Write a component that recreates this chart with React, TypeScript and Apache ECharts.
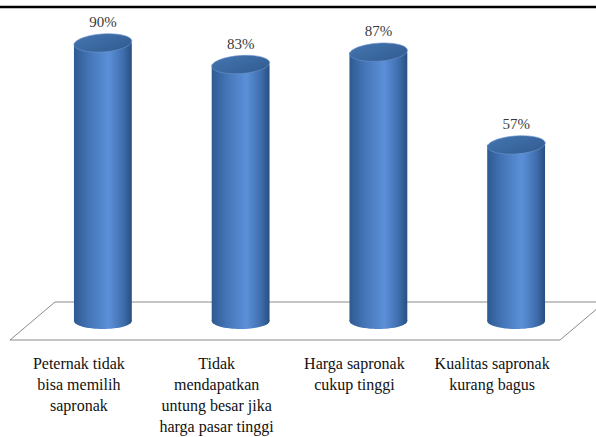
import React, { useEffect, useRef } from "react";
import * as echarts from "echarts";

// Reasons (category labels) and share of respondents in percent
const categories: string[] = [
  "Peternak tidak\nbisa memilih\nsapronak",
  "Tidak\nmendapatkan\nuntung besar jika\nharga pasar tinggi",
  "Harga sapronak\ncukup tinggi",
  "Kualitas sapronak\nkurang bagus",
];
const percentages: number[] = [90, 83, 87, 57];

const SERIF = "Times New Roman, Liberation Serif, serif";

export default function App() {
  const ref = useRef<HTMLDivElement>(null);

  useEffect(() => {
    if (!ref.current) return;
    const chart = echarts.init(ref.current, null, { renderer: "svg" });

    const bodyFill = new echarts.graphic.LinearGradient(0, 0, 1, 0, [
      { offset: 0, color: "#2e5a91" },
      { offset: 0.25, color: "#4474b6" },
      { offset: 0.6, color: "#5b90d8" },
      { offset: 0.85, color: "#3f6eae" },
      { offset: 1, color: "#28507f" },
    ]);
    const topFill = new echarts.graphic.LinearGradient(0, 0, 1, 1, [
      { offset: 0, color: "#4474b0" },
      { offset: 1, color: "#315c90" },
    ]);

    const renderItem = (params: any, api: any) => {
      const idx = api.value(0);
      const v = api.value(1);
      const base = api.coord([idx, 0]);
      const top = api.coord([idx, v]);
      const w = api.size([1, 0])[0] * 0.42;
      const rx = w / 2;
      const ry = 8;
      const cx = base[0];
      return {
        type: "group",
        children: [
          {
            type: "ellipse",
            shape: { cx, cy: base[1], rx, ry },
            style: { fill: bodyFill },
          },
          {
            type: "rect",
            shape: { x: cx - rx, y: top[1], width: w, height: base[1] - top[1] },
            style: { fill: bodyFill },
          },
          {
            type: "ellipse",
            shape: { cx, cy: top[1], rx, ry: ry + 1 },
            rotation: 0.07,
            originX: cx,
            originY: top[1],
            style: { fill: topFill, stroke: "#6b95cc", lineWidth: 0.6 },
          },
          {
            type: "text",
            style: {
              x: cx,
              y: top[1] - 21,
              text: v + "%",
              fill: "#3a3a3a",
              fontFamily: SERIF,
              fontSize: 15,
              align: "center",
              verticalAlign: "middle",
            },
          },
        ],
      };
    };

    chart.setOption({
      animation: false,
      backgroundColor: "#ffffff",
      textStyle: { fontFamily: SERIF },
      grid: [
        // cylinders
        { left: 34, right: 11, top: 12, bottom: 116 },
        // category labels sit on the front edge of the floor, a little to the left
        { left: 10, right: 35, top: 12, bottom: 116 },
      ],
      xAxis: [
        {
          type: "category",
          gridIndex: 0,
          data: categories,
          axisLine: { show: false },
          axisTick: { show: false },
          axisLabel: { show: false },
        },
        {
          type: "category",
          gridIndex: 1,
          data: categories,
          axisLine: { show: false },
          axisTick: { show: false },
          axisLabel: {
            interval: 0,
            margin: 34,
            align: "center",
            fontFamily: SERIF,
            fontSize: 16,
            lineHeight: 21,
            color: "#111111",
          },
        },
      ],
      yAxis: [
        { type: "value", gridIndex: 0, min: 0, max: 100, show: false },
        { type: "value", gridIndex: 1, min: 0, max: 100, show: false },
      ],
      graphic: [
        {
          type: "line",
          z: 10,
          shape: { x1: 0, y1: 7, x2: 596, y2: 7 },
          style: { stroke: "#000000", lineWidth: 2.5 },
        },
        {
          type: "polygon",
          z: 0,
          shape: {
            points: [
              [10, 340],
              [55, 302],
              [605, 302],
              [560, 340],
            ],
          },
          style: { fill: "#ffffff", stroke: "#8a8a8a", lineWidth: 1 },
        },
      ],
      series: [
        {
          type: "custom",
          z: 5,
          xAxisIndex: 0,
          yAxisIndex: 0,
          renderItem,
          data: percentages.map((p, i) => [i, p]),
          encode: { x: 0, y: 1 },
        },
      ],
    });

    return () => chart.dispose();
  }, []);

  return (
    <div
      ref={ref}
      style={{ position: "fixed", left: 0, top: 0, width: 596, height: 437 }}
    />
  );
}
